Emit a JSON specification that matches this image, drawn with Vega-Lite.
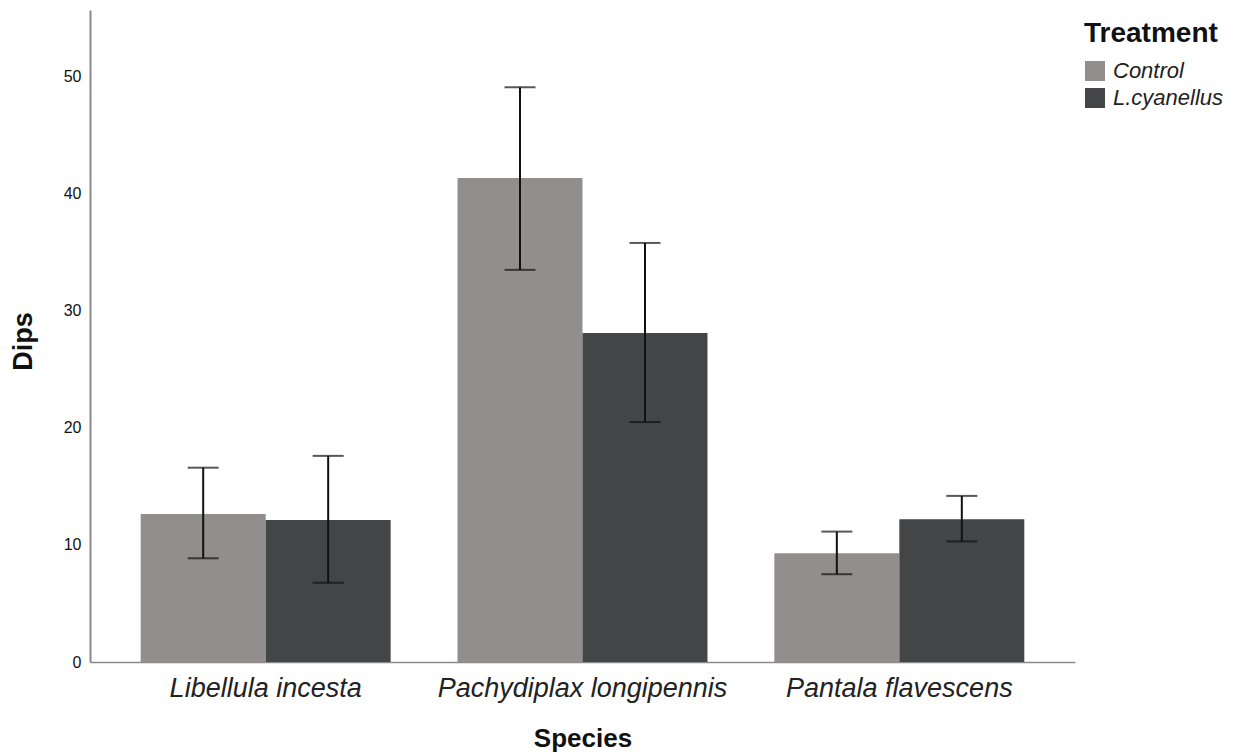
{
  "$schema": "https://vega.github.io/schema/vega-lite/v6.json",
  "width": 985,
  "height": 652,
  "autosize": {"type": "none"},
  "padding": {"left": 90, "top": 10, "right": 158, "bottom": 93},
  "background": "white",
  "config": {
    "view": {"stroke": null},
    "font": "Liberation Sans"
  },
  "data": {
    "values": [
      {"Species": "Libellula incesta", "Treatment": "Control", "Dips": 12.65, "lo": 8.86, "hi": 16.6},
      {"Species": "Libellula incesta", "Treatment": "L.cyanellus", "Dips": 12.14, "lo": 6.77, "hi": 17.61},
      {"Species": "Pachydiplax longipennis", "Treatment": "Control", "Dips": 41.34, "lo": 33.5, "hi": 49.1},
      {"Species": "Pachydiplax longipennis", "Treatment": "L.cyanellus", "Dips": 28.1, "lo": 20.5, "hi": 35.8},
      {"Species": "Pantala flavescens", "Treatment": "Control", "Dips": 9.29, "lo": 7.5, "hi": 11.14},
      {"Species": "Pantala flavescens", "Treatment": "L.cyanellus", "Dips": 12.2, "lo": 10.3, "hi": 14.19}
    ]
  },
  "encoding": {
    "x": {
      "field": "Species",
      "type": "nominal",
      "scale": {"paddingInner": 0.211, "paddingOuter": 0.16},
      "axis": {
        "title": "Species",
        "labelAngle": 0,
        "labelLimit": 0,
        "labelFont": "Liberation Sans",
        "labelFontStyle": "italic",
        "labelFontSize": 27,
        "labelColor": "#222222",
        "labelPadding": 13,
        "ticks": false,
        "domainColor": "#8a8a8a",
        "domainWidth": 1.5,
        "titleFontSize": 26,
        "titleFontWeight": "bold",
        "titleColor": "#111111",
        "titlePadding": 24
      }
    },
    "xOffset": {"field": "Treatment", "type": "nominal", "scale": {"paddingInner": 0, "paddingOuter": 0}}
  },
  "layer": [
    {
      "mark": {"type": "bar", "stroke": null},
      "encoding": {
        "y": {
          "field": "Dips",
          "type": "quantitative",
          "scale": {"domain": [0, 55.7], "nice": false, "zero": true},
          "axis": {
            "title": "Dips",
            "values": [0, 10, 20, 30, 40, 50],
            "grid": false,
            "ticks": false,
            "labelFontSize": 16,
            "labelColor": "#111111",
            "labelPadding": 9,
            "domainColor": "#8a8a8a",
            "domainWidth": 2,
            "titleFontSize": 27,
            "titleFontWeight": "bold",
            "titleColor": "#111111",
            "titleAngle": -90,
            "titleX": -67,
            "titleY": 331,
            "titleAlign": "center",
            "titleBaseline": "middle"
          }
        },
        "color": {
          "field": "Treatment",
          "type": "nominal",
          "scale": {"domain": ["Control", "L.cyanellus"], "range": ["#928e8d", "#444547"]},
          "legend": {
            "orient": "none",
            "legendX": 994,
            "legendY": 10,
            "title": "Treatment",
            "titleFontSize": 28,
            "titleFontWeight": "bold",
            "titleColor": "#111111",
            "titlePadding": 12,
            "labelFontSize": 22,
            "labelFontStyle": "italic",
            "labelColor": "#222222",
            "labelOffset": 7,
            "symbolType": "square",
            "symbolSize": 400,
            "symbolStrokeWidth": 0,
            "rowPadding": 5
          }
        }
      }
    },
    {
      "mark": {"type": "rule", "color": "#111111", "strokeWidth": 2},
      "encoding": {
        "y": {"field": "lo", "type": "quantitative"},
        "y2": {"field": "hi"}
      }
    },
    {
      "mark": {"type": "tick", "color": "#111111", "thickness": 2, "size": 31},
      "encoding": {
        "y": {"field": "lo", "type": "quantitative"}
      }
    },
    {
      "mark": {"type": "tick", "color": "#111111", "thickness": 2, "size": 31},
      "encoding": {
        "y": {"field": "hi", "type": "quantitative"}
      }
    }
  ]
}
